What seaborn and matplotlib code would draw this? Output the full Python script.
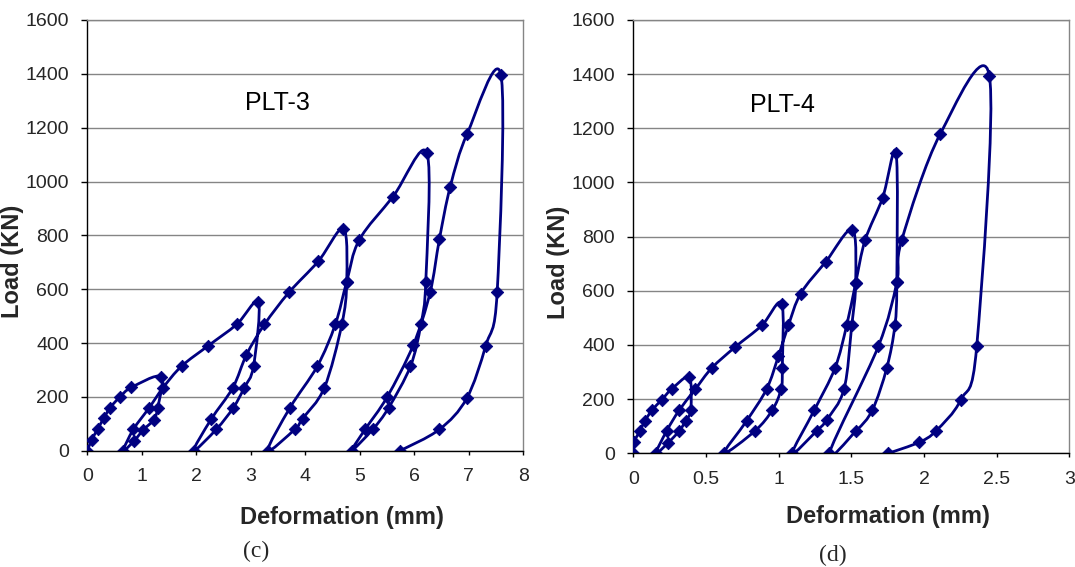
import numpy as np
import matplotlib
matplotlib.use("Agg")
import matplotlib.pyplot as plt
from matplotlib.path import Path
from matplotlib.patches import PathPatch
import seaborn as sns

# ---------------- data ----------------
# PLT-3 : load / unload cycles, in test order
plt3_def = [0.00, 0.08, 0.19, 0.30, 0.42, 0.60, 0.81, 1.35,
            1.29, 1.22, 1.03, 0.86, 0.66,
            0.845, 1.13, 1.39, 1.73, 2.22, 2.74, 3.14,
            3.05, 2.88, 2.68, 2.37, 1.95,
            2.27, 2.67, 2.92, 3.25, 3.70, 4.24, 4.70,
            4.76, 4.67, 4.35, 3.95, 3.81, 3.31,
            3.72, 4.22, 4.55, 4.76, 4.99, 5.61, 6.23,
            6.21, 6.12, 5.93, 5.53, 5.24, 4.85,
            5.10, 5.50, 5.98, 6.29, 6.46, 6.66, 6.97, 7.59,
            7.52, 7.31, 6.96, 6.46, 5.74]
plt3_load = [0, 40, 80, 120, 160, 200, 235, 275,
             158, 115, 78, 37, 0,
             79, 158, 234, 314, 390, 469, 551,
             314, 234, 160, 80, 0,
             116, 234, 356, 469, 588, 704, 825,
             628, 469, 234, 119, 80, 0,
             160, 314, 469, 628, 783, 944, 1107,
             627, 469, 314, 160, 80, 0,
             80, 199, 392, 588, 785, 981, 1177, 1396,
             588, 390, 194, 79, 0]

# PLT-4 : load / unload cycles, in test order
plt4_def = [0.000, 0.005, 0.046, 0.080, 0.130, 0.195, 0.264, 0.385,
            0.395, 0.360, 0.317, 0.240, 0.156,
            0.230, 0.317, 0.427, 0.540, 0.700, 0.884, 1.020,
            1.025, 1.017, 0.957, 0.838, 0.624,
            0.780, 0.918, 0.998, 1.067, 1.152, 1.324, 1.507,
            1.530, 1.503, 1.450, 1.330, 1.262, 1.094,
            1.246, 1.388, 1.468, 1.530, 1.595, 1.716, 1.808,
            1.813, 1.800, 1.744, 1.645, 1.533, 1.349,
            1.686, 1.813, 1.847, 2.111, 2.450,
            2.363, 2.253, 2.083, 1.968, 1.755]
plt4_load = [0, 41, 83, 120, 160, 197, 237, 280,
             160, 120, 83, 39, 0,
             83, 160, 237, 315, 392, 472, 553,
             315, 238, 160, 83, 0,
             120, 238, 358, 472, 590, 707, 826,
             629, 472, 237, 123, 83, 0,
             160, 315, 472, 629, 787, 944, 1110,
             631, 472, 315, 160, 83, 0,
             395, 631, 787, 1178, 1394,
             395, 197, 83, 41, 0]

panel_names = ["PLT-3", "PLT-4"]
captions = ["(c)", "(d)"]
x_ticks = [list(range(0, 9)), [0, 0.5, 1, 1.5, 2, 2.5, 3]]
x_ticklabels = [[str(v) for v in range(0, 9)], ["0", "0.5", "1", "1.5", "2", "2.5", "3"]]
y_ticks = list(range(0, 1601, 200))

NAVY = "#000080"
GRID = "#858585"


def smooth_path(xs, ys):
    """Excel-style smoothed line: Catmull-Rom through the points, as Bezier path."""
    P = np.column_stack([xs, ys]).astype(float)
    n = len(P)
    verts = [P[0]]
    codes = [Path.MOVETO]
    for i in range(n - 1):
        p0 = P[i - 1] if i > 0 else P[i]
        p1 = P[i]
        p2 = P[i + 1]
        p3 = P[i + 2] if i + 2 < n else P[i + 1]
        verts += [p1 + (p2 - p0) / 6.0, p2 - (p3 - p1) / 6.0, p2]
        codes += [Path.CURVE4] * 3
    return Path(verts, codes)


sns.set_style("white")
plt.rcParams["font.family"] = ["Liberation Sans", "DejaVu Sans"]

W, H = 1075, 567
fig = plt.figure(figsize=(W / 100, H / 100), dpi=100)
fig.patch.set_facecolor("white")

# axes boxes in pixels: (left, top, right, bottom)
boxes = [(87.3, 20.0, 523.3, 450.7), (633.3, 20.0, 1069.3, 453.3)]
xlims = [(0, 8), (0, 3)]
datasets = [(plt3_def, plt3_load), (plt4_def, plt4_load)]
name_pos = [(0.435, 0.807), (0.341, 0.803)]
xlabel_pos = [(0.585, -0.156), (0.583, -0.146)]
cap_pos = [(256, 551), (833, 555)]

for k in range(2):
    l, t, r, b = boxes[k]
    ax = fig.add_axes([l / W, 1 - b / H, (r - l) / W, (b - t) / H])
    xs, ys = datasets[k]

    patch = PathPatch(smooth_path(xs, ys), facecolor="none", edgecolor=NAVY,
                      lw=2.0, zorder=3, capstyle="round", joinstyle="round")
    ax.add_patch(patch)
    sns.scatterplot(x=xs, y=ys, ax=ax, marker="D", s=40, color=NAVY,
                    edgecolor=NAVY, linewidth=0.6, zorder=4, legend=False)

    ax.set_xlim(*xlims[k])
    ax.set_ylim(0, 1600)
    ax.set_xticks(x_ticks[k])
    ax.set_xticklabels(x_ticklabels[k])
    ax.set_yticks(y_ticks)
    ax.set_yticklabels([str(v) for v in y_ticks])
    ax.yaxis.grid(True, color=GRID, lw=1.0)
    ax.xaxis.grid(False)
    ax.set_axisbelow(True)

    for side in ["left", "bottom"]:
        ax.spines[side].set_color("black")
        ax.spines[side].set_linewidth(1.0)
    for side in ["top", "right"]:
        ax.spines[side].set_color(GRID)
        ax.spines[side].set_linewidth(1.0)
    ax.spines["bottom"].set_zorder(5)

    ax.tick_params(axis="x", direction="out", length=3.2, width=1, color="black",
                   labelsize=14, pad=9.5, bottom=True)
    ax.tick_params(axis="y", direction="out", length=4.3, width=1, color="black",
                   labelsize=14, pad=9.0, left=True)

    ax.set_xlabel("Deformation (mm)", fontsize=17, fontweight="bold")
    ax.xaxis.label.set_va("center")
    ax.xaxis.set_label_coords(*xlabel_pos[k])
    ax.set_ylabel("Load (KN)", fontsize=17, fontweight="bold")
    ax.yaxis.label.set_va("center")
    ax.yaxis.set_label_coords(-0.1727, 0.44)

    ax.text(name_pos[k][0], name_pos[k][1], panel_names[k], transform=ax.transAxes,
            fontsize=18, ha="center", va="center", color="black")

    fig.text(cap_pos[k][0] / W, 1 - cap_pos[k][1] / H, captions[k],
             fontsize=17, ha="center", va="center",
             family=["Liberation Serif", "DejaVu Serif"])

fig.savefig("out.png", dpi=100, facecolor="white")
